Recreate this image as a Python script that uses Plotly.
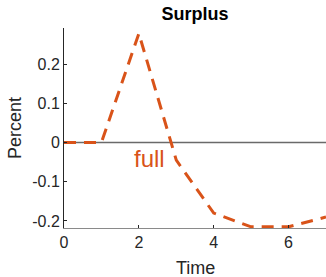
import plotly.graph_objects as go

time = [0, 1, 2, 3, 4, 5, 6, 7]
surplus = [0.0, 0.0, 0.278, -0.045, -0.18, -0.215, -0.215, -0.19]
y_ticks = [-0.2, -0.1, 0, 0.1, 0.2]
y_tick_labels = ["-0.2", "-0.1", "0", "0.1", "0.2"]
x_ticks = [0, 2, 4, 6]
x_tick_labels = ["0", "2", "4", "6"]

orange = "#D95319"
axis_col = "#262626"
font = "Liberation Sans, Arial, Helvetica, sans-serif"

W, H = 326, 277
L, R, T, B = 64, 0, 28, 49

fig = go.Figure()
fig.add_trace(go.Scatter(x=[0, 7], y=[0, 0], mode="lines",
                         line=dict(color="#6a6a6a", width=1.4), hoverinfo="skip",
                         showlegend=False))
fig.add_trace(go.Scatter(x=time, y=surplus, mode="lines",
                         line=dict(color=orange, width=3, dash="12px,8px"),
                         showlegend=False))
fig.add_annotation(x=1.82, y=-0.04, text="full", showarrow=False,
                   xanchor="left", yanchor="middle",
                   font=dict(family=font, size=24, color=orange))
fig.add_annotation(xref="paper", yref="paper", x=0.5, y=-(268 - (H - B)) / (H - T - B),
                   text="Time", showarrow=False, xanchor="center", yanchor="middle",
                   font=dict(family=font, size=18, color=axis_col))
fig.add_annotation(xref="paper", yref="paper", x=-(L - 15) / (W - L - R), y=0.5,
                   text="Percent", showarrow=False, xanchor="center", yanchor="middle",
                   textangle=-90,
                   font=dict(family=font, size=18, color=axis_col))

fig.update_layout(
    width=W, height=H,
    margin=dict(l=L, r=R, t=T, b=B),
    plot_bgcolor="white", paper_bgcolor="white",
    font=dict(family=font, size=16, color=axis_col),
    title=dict(text="<b>Surplus</b>", x=(L + W) / 2 / W, xanchor="center",
               y=1 - 14 / H, yanchor="middle",
               font=dict(family=font, size=18, color="black")),
    xaxis=dict(range=[0, 7], tickvals=x_ticks, ticktext=x_tick_labels,
               ticks="inside", ticklen=3, tickcolor=axis_col,
               showline=True, linecolor="#8a8a8a", linewidth=1,
               showgrid=False, zeroline=False, automargin=False),
    yaxis=dict(range=[-0.218, 0.292], tickvals=y_ticks, ticktext=y_tick_labels,
               ticks="inside", ticklen=3, tickcolor=axis_col,
               showline=True, linecolor=axis_col, linewidth=1,
               showgrid=False, zeroline=False, automargin=False),
)

fig.write_html("out.html", config={"displayModeBar": False},
               post_script="document.body.style.margin='0px';document.body.style.overflow='hidden';")
